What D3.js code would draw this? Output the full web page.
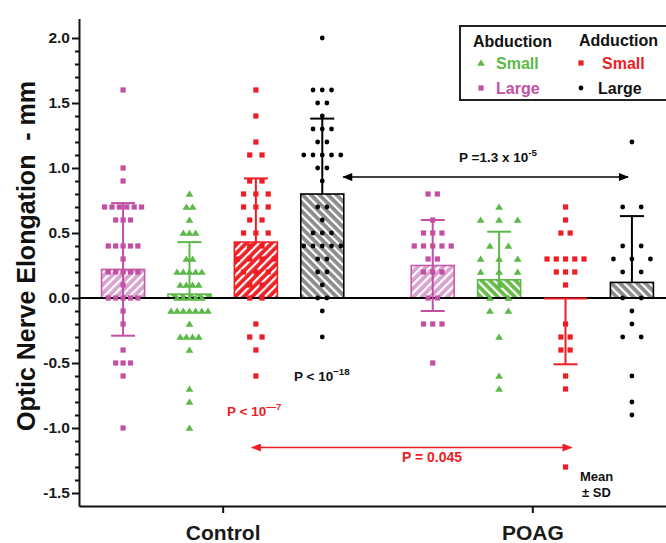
<!DOCTYPE html>
<html>
<head>
<meta charset="utf-8">
<script src="https://cdn.jsdelivr.net/npm/d3@7"></script>
<style>
  body { margin: 0; background: #fff; }
  text { font-family: "Liberation Sans", Arial, sans-serif; font-weight: bold; }
</style>
</head>
<body>
<svg id="chart" width="666" height="543"></svg>
<script>
// Groups, series and tick labels
const groups = ["Control", "POAG"];
const seriesNames = ["Abduction Large", "Abduction Small", "Adduction Small", "Adduction Large"];
const yTicks = [-1.5, -1.0, -0.5, 0.0, 0.5, 1.0, 1.5, 2.0];

// Individual eyes (mm)
const ctrlAbdLarge = [1.6, 1.0, 0.9, 0.7, 0.7, 0.7, 0.7, 0.7, 0.7, 0.6, 0.6, 0.6, 0.4, 0.4, 0.4, 0.4, 0.4, 0.3, 0.2, 0.2, 0.2, 0.2, 0.2, 0.1, 0.0, 0.0, 0.0, 0.0, 0.0, -0.1, -0.2, -0.4, -0.5, -0.5, -0.5, -0.6, -1.0];
const ctrlAbdSmall = [0.8, 0.7, 0.7, 0.6, 0.5, 0.5, 0.5, 0.3, 0.3, 0.2, 0.2, 0.2, 0.2, 0.2, 0.1, 0.1, 0.1, 0.1, 0.0, 0.0, 0.0, 0.0, 0.0, -0.1, -0.1, -0.1, -0.1, -0.1, -0.1, -0.1, -0.2, -0.3, -0.3, -0.3, -0.3, -0.4, -0.7, -0.8, -1.0];
const ctrlAddSmall = [1.6, 1.4, 1.2, 1.1, 1.1, 0.9, 0.9, 0.8, 0.8, 0.8, 0.7, 0.7, 0.7, 0.6, 0.6, 0.5, 0.5, 0.5, 0.4, 0.4, 0.3, 0.3, 0.3, 0.3, 0.2, 0.2, 0.2, 0.1, 0.1, 0.0, 0.0, -0.2, -0.3, -0.3, -0.4, -0.6];
const ctrlAddLarge = [2.0, 1.6, 1.6, 1.6, 1.5, 1.5, 1.4, 1.3, 1.3, 1.3, 1.2, 1.2, 1.1, 1.1, 1.1, 1.1, 1.1, 1.0, 1.0, 0.9, 0.7, 0.7, 0.6, 0.5, 0.5, 0.5, 0.4, 0.4, 0.4, 0.4, 0.4, 0.3, 0.3, 0.2, 0.2, 0.1, 0.0, 0.0, -0.1, -0.3];
const poagAbdLarge = [0.8, 0.8, 0.6, 0.5, 0.5, 0.5, 0.4, 0.4, 0.4, 0.4, 0.4, 0.3, 0.3, 0.2, 0.2, 0.2, 0.0, 0.0, -0.2, -0.2, -0.2, -0.5];
const poagAbdSmall = [0.7, 0.6, 0.6, 0.6, 0.4, 0.4, 0.3, 0.3, 0.3, 0.2, 0.2, 0.2, 0.1, 0.0, 0.0, -0.1, -0.1, -0.3, -0.6, -0.7];
const poagAddSmall = [0.7, 0.6, 0.5, 0.5, 0.3, 0.3, 0.3, 0.3, 0.3, 0.2, 0.2, 0.2, 0.1, -0.2, -0.3, -0.3, -0.4, -0.4, -0.6, -0.7, -1.3];
const poagAddLarge = [1.2, 0.7, 0.7, 0.4, 0.4, 0.3, 0.3, 0.3, 0.2, 0.2, 0.0, 0.0, -0.1, -0.2, -0.3, -0.3, -0.6, -0.8, -0.9];

// Mean and SD per series
const ctrlMeans = [0.22, 0.03, 0.43, 0.80];
const ctrlSD = [0.51, 0.40, 0.49, 0.58];
const poagMeans = [0.25, 0.14, 0.00, 0.12];
const poagSD = [0.35, 0.37, 0.51, 0.51];
const ctrlErrDir = ["both", "up", "up", "up"];
const poagErrDir = ["both", "up", "down", "up"];

// look of each series
const markColor = ["#c34fa5", "#5bb947", "#ee1d24", "#000000"];
const barColor = ["#d8a3cf", "#68bb48", "#ee2226", "#8c8c8c"];
const barStroke = ["#c55aab", "#5bb947", "#ee1d24", "#000000"];
const hatchAngle = [45, -45, 45, -45];
const markShape = ["square", "triangle", "square", "circle"];

const columns = [
    { group: "Control", s: 0, values: ctrlAbdLarge, mean: ctrlMeans[0], sd: ctrlSD[0], dir: ctrlErrDir[0] },
    { group: "Control", s: 1, values: ctrlAbdSmall, mean: ctrlMeans[1], sd: ctrlSD[1], dir: ctrlErrDir[1] },
    { group: "Control", s: 2, values: ctrlAddSmall, mean: ctrlMeans[2], sd: ctrlSD[2], dir: ctrlErrDir[2] },
    { group: "Control", s: 3, values: ctrlAddLarge, mean: ctrlMeans[3], sd: ctrlSD[3], dir: ctrlErrDir[3] },
    { group: "POAG", s: 0, values: poagAbdLarge, mean: poagMeans[0], sd: poagSD[0], dir: poagErrDir[0] },
    { group: "POAG", s: 1, values: poagAbdSmall, mean: poagMeans[1], sd: poagSD[1], dir: poagErrDir[1] },
    { group: "POAG", s: 2, values: poagAddSmall, mean: poagMeans[2], sd: poagSD[2], dir: poagErrDir[2] },
    { group: "POAG", s: 3, values: poagAddLarge, mean: poagMeans[3], sd: poagSD[3], dir: poagErrDir[3] }
];

const svg = d3.select("#chart");
const left = 79, bottom = 506, right = 666;

const y = d3.scaleLinear().domain([-1.6, 2.15]).range([bottom, bottom - 3.75 * 130]);
const x = d3.scalePoint().domain(groups).range([left, 676]).padding(0.464);
const xs = d3.scalePoint().domain(seriesNames).range([-99.6, 99.6]);
const barW = 43;
const cx = c => x(c.group) + xs(seriesNames[c.s]);

// hatch patterns
const defs = svg.append("defs");
barColor.forEach((col, i) => {
    const p = defs.append("pattern")
        .attr("id", "hatch" + i)
        .attr("patternUnits", "userSpaceOnUse")
        .attr("width", 6).attr("height", 6)
        .attr("patternTransform", `rotate(${hatchAngle[i]})`);
    p.append("rect").attr("width", 6).attr("height", 6).attr("fill", col);
    p.append("rect").attr("width", 2.2).attr("height", 6).attr("fill", "#fff");
});

// axes
const fmt = d => d3.format(".1f")(d).replace("\u2212", "-");
const yAxis = svg.append("g")
    .attr("transform", `translate(${left},0)`)
    .call(d3.axisLeft(y).tickValues(yTicks).tickFormat(fmt).tickSize(7).tickSizeOuter(0).tickPadding(2));
const minor = d3.range(-15, 21).map(d => d / 10).filter(d => Math.abs(d * 2 - Math.round(d * 2)) > 0.01);
svg.append("g")
    .attr("transform", `translate(${left},0)`)
    .call(d3.axisLeft(y).tickValues(minor).tickFormat("").tickSize(4).tickSizeOuter(0))
    .select(".domain").remove();
const xAxis = svg.append("g")
    .attr("transform", `translate(0,${bottom})`)
    .call(d3.axisBottom(x).tickSize(7).tickSizeOuter(0));
svg.selectAll(".domain, .tick line").attr("stroke", "#111").attr("stroke-width", 2);
yAxis.selectAll("text").attr("font-size", 15.5).attr("fill", "#1a1a1a").attr("font-family", '"Liberation Sans", Arial, sans-serif');
xAxis.selectAll("text").attr("font-size", 21).attr("fill", "#1a1a1a").attr("dy", 0).attr("y", 34)
    .attr("font-family", '"Liberation Sans", Arial, sans-serif');

svg.append("text")
    .attr("transform", `translate(35,256) rotate(-90)`)
    .attr("text-anchor", "middle")
    .attr("font-size", 25)
    .attr("fill", "#111")
    .attr("xml:space", "preserve")
    .text("Optic Nerve Elongation  - mm");

// bars
svg.selectAll(".bar").data(columns).enter().append("rect")
    .attr("class", "bar")
    .attr("x", c => cx(c) - barW / 2)
    .attr("width", barW)
    .attr("y", c => y(Math.max(0, c.mean)))
    .attr("height", c => Math.abs(y(c.mean) - y(0)))
    .attr("fill", c => `url(#hatch${c.s})`)
    .attr("stroke", c => barStroke[c.s])
    .attr("stroke-width", 1.6);

// zero line
svg.append("line")
    .attr("x1", left).attr("x2", right)
    .attr("y1", y(0)).attr("y2", y(0))
    .attr("stroke", "#000").attr("stroke-width", 2);

// zero-height bars show as a coloured line
svg.selectAll(".flat").data(columns.filter(c => c.mean === 0)).enter().append("line")
    .attr("x1", c => cx(c) - barW / 2).attr("x2", c => cx(c) + barW / 2)
    .attr("y1", y(0) + 0.5).attr("y2", y(0) + 0.5)
    .attr("stroke", c => markColor[c.s]).attr("stroke-width", 2);

// scatter points, rows spread sideways
const spread = 37;
columns.forEach(c => {
    const rows = d3.group(c.values, v => v.toFixed(1));
    const maxN = d3.max(Array.from(rows.values(), r => r.length));
    const step = maxN > 1 ? spread / (maxN - 1) : 0;
    const pts = [];
    rows.forEach(r => r.forEach((v, i) => pts.push({ v, dx: (i - (r.length - 1) / 2) * step })));
    const g = svg.append("g").attr("fill", markColor[c.s]);
    const shape = markShape[c.s];
    pts.forEach(p => {
        const px = cx(c) + p.dx, py = y(p.v);
        if (shape === "square") {
            g.append("rect").attr("x", px - 2.6).attr("y", py - 2.6).attr("width", 5.2).attr("height", 5.2);
        } else if (shape === "triangle") {
            g.append("path").attr("d", `M${px},${py - 3.6}L${px + 3.9},${py + 2.8}L${px - 3.9},${py + 2.8}Z`);
        } else {
            g.append("circle").attr("cx", px).attr("cy", py).attr("r", 2.4);
        }
    });
});

// error bars
const capW = 24;
columns.forEach(c => {
    const g = svg.append("g").attr("stroke", markColor[c.s]).attr("stroke-width", 2);
    const hi = c.dir === "down" ? c.mean : c.mean + c.sd;
    const lo = c.dir === "up" ? c.mean : c.mean - c.sd;
    const xc = cx(c);
    g.append("line").attr("x1", xc).attr("x2", xc).attr("y1", y(hi)).attr("y2", y(lo));
    if (c.dir !== "down") g.append("line").attr("x1", xc - capW / 2).attr("x2", xc + capW / 2).attr("y1", y(hi)).attr("y2", y(hi));
    if (c.dir !== "up") g.append("line").attr("x1", xc - capW / 2).attr("x2", xc + capW / 2).attr("y1", y(lo)).attr("y2", y(lo));
});

// arrows
function arrowMarker(id, col) {
    defs.append("marker").attr("id", id)
        .attr("viewBox", "0 0 10 8").attr("refX", 9).attr("refY", 4)
        .attr("markerUnits", "userSpaceOnUse")
        .attr("markerWidth", 11).attr("markerHeight", 8)
        .attr("orient", "auto-start-reverse")
        .append("path").attr("d", "M0,0L10,4L0,8Z").attr("fill", col);
}
arrowMarker("arrBlack", "#000");
arrowMarker("arrRed", "#ee1d24");

svg.append("line")
    .attr("x1", cx(columns[3]) + 21).attr("x2", cx(columns[7]) - 4)
    .attr("y1", y(0.93)).attr("y2", y(0.93))
    .attr("stroke", "#000").attr("stroke-width", 1.5)
    .attr("marker-start", "url(#arrBlack)").attr("marker-end", "url(#arrBlack)");
svg.append("line")
    .attr("x1", cx(columns[2]) - 4).attr("x2", cx(columns[6]) + 6)
    .attr("y1", y(-1.15)).attr("y2", y(-1.15))
    .attr("stroke", "#ee1d24").attr("stroke-width", 1.5)
    .attr("marker-start", "url(#arrRed)").attr("marker-end", "url(#arrRed)");

// p-value labels
function pLabel(xp, yp, col, main, sup, size) {
    const t = svg.append("text").attr("x", xp).attr("y", yp).attr("fill", col).attr("font-size", size)
        .attr("xml:space", "preserve");
    t.append("tspan").text(main);
    if (sup) t.append("tspan").attr("font-size", size * 0.72).attr("dy", -6).text(sup);
}
pLabel(459, 162, "#111", "P =1.3 x 10", "-5", 13.5);
pLabel(294, 381, "#111", "P < 10", "\u221218", 13.5);
pLabel(227, 416, "#ee1d24", "P < 10", "\u20147", 13.5);
pLabel(402, 462, "#ee1d24", "P = 0.045", null, 14);

svg.append("text").attr("x", 580).attr("y", 481).attr("font-size", 13).attr("fill", "#111").text("Mean");
svg.append("text").attr("x", 582).attr("y", 497).attr("font-size", 13).attr("fill", "#111").text("\u00b1 SD");

// legend
const legendHeads = ["Abduction", "Adduction"];
const legendItems = [
    { label: "Small", s: 1, col: 0, row: 0 },
    { label: "Large", s: 0, col: 0, row: 1 },
    { label: "Small", s: 2, col: 1, row: 0 },
    { label: "Large", s: 3, col: 1, row: 1 }
];
const lg = svg.append("g");
lg.append("rect").attr("x", 460).attr("y", 26).attr("width", 215).attr("height", 74)
    .attr("fill", "#fff").attr("stroke", "#222").attr("stroke-width", 2);
legendHeads.forEach((h, i) => {
    lg.append("text").attr("x", 473 + i * 106).attr("y", 47 - i).attr("font-size", 16).attr("fill", "#111").text(h);
});
legendItems.forEach(it => {
    const mx = 481 + it.col * 100, my = 63 + it.row * 25;
    const col = markColor[it.s];
    const shape = markShape[it.s];
    if (shape === "square") lg.append("rect").attr("x", mx - 2.6).attr("y", my - 2.6).attr("width", 5.2).attr("height", 5.2).attr("fill", col);
    else if (shape === "triangle") lg.append("path").attr("d", `M${mx},${my - 3.6}L${mx + 3.9},${my + 2.8}L${mx - 3.9},${my + 2.8}Z`).attr("fill", col);
    else lg.append("circle").attr("cx", mx).attr("cy", my).attr("r", 2.4).attr("fill", col);
    const tx = it.col === 0 ? 496 : (it.s === 2 ? 602 : 598);
    lg.append("text").attr("x", tx).attr("y", my + 5.5).attr("font-size", 16).attr("fill", it.s === 3 ? "#111" : col).text(it.label);
});
</script>
</body>
</html>
